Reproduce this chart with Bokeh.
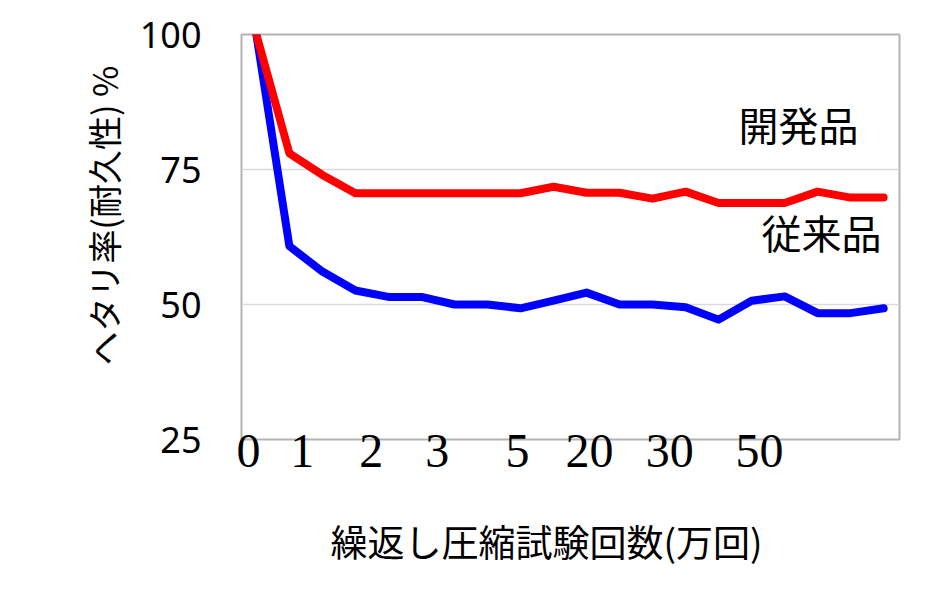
from bokeh.plotting import figure
from bokeh.models import FixedTicker, Range1d, Label, Title
from bokeh.embed import file_html
from bokeh.resources import INLINE

# ---- data ----
step_index = list(range(20))
dev_product = [100, 78.0, 74.0, 70.6, 70.6, 70.6, 70.6, 70.6, 70.6, 71.8,
               70.7, 70.7, 69.6, 70.9, 68.8, 68.8, 68.8, 70.9, 69.8, 69.8]
conv_product = [100, 60.8, 56.1, 52.6, 51.4, 51.4, 50.0, 50.0, 49.3, 50.7,
                52.2, 50.0, 50.0, 49.5, 47.2, 50.7, 51.5, 48.4, 48.4, 49.3]
x_tick_pos = [-0.24, 1.39, 3.48, 5.48, 7.91, 10.09, 12.52, 15.24]
x_tick_labels = ["0", "1", "2", "3", "5", "20", "30", "50"]
y_ticks = [25, 50, 75, 100]
series_names = ["開発品", "従来品"]
x_title = "繰返し圧縮試験回数(万回)"
y_title = "ヘタリ率(耐久性) %"

p = figure(width=924, height=612, output_backend="svg", toolbar_location=None,
           x_range=Range1d(-0.45, 19.48), y_range=Range1d(25, 100),
           min_border_left=241, min_border_right=25, min_border_top=34,
           min_border_bottom=173)

p.outline_line_color = "#b3b3b3"
p.outline_line_width = 2
p.background_fill_color = "white"
p.border_fill_color = "white"

p.xgrid.visible = False
p.ygrid.ticker = FixedTicker(ticks=y_ticks)
p.ygrid.grid_line_color = "#d9d9d9"
p.ygrid.grid_line_width = 1.5

p.yaxis.ticker = FixedTicker(ticks=y_ticks)
p.yaxis.axis_line_color = None
p.yaxis.major_tick_line_color = None
p.yaxis.minor_tick_line_color = None
p.yaxis.major_tick_out = 0
p.yaxis.major_label_standoff = 40
p.yaxis.major_label_text_font = "Noto Sans"
p.yaxis.major_label_text_font_size = "36px"
p.yaxis.major_label_text_color = "black"

p.xaxis.ticker = FixedTicker(ticks=x_tick_pos)
p.xaxis.major_label_overrides = {pos: lab for pos, lab in zip(x_tick_pos, x_tick_labels)}
p.xaxis.axis_line_color = None
p.xaxis.major_tick_line_color = None
p.xaxis.minor_tick_line_color = None
p.xaxis.major_tick_out = 0
p.xaxis.major_label_standoff = -5
p.xaxis.major_label_text_font = "Liberation Serif"
p.xaxis.major_label_text_font_size = "48px"
p.xaxis.major_label_text_color = "black"

p.line(step_index, conv_product, line_color="#0000ff", line_width=8,
       line_cap="round", line_join="round")
p.line(step_index, dev_product, line_color="#ff0000", line_width=8,
       line_cap="round", line_join="round")

cjk = "Noto Sans CJK JP"
p.add_layout(Label(x=16.42, y=83.5, text=series_names[0], text_align="center",
                   text_baseline="middle", text_font=cjk, text_font_size="40px",
                   text_color="black"))
p.add_layout(Label(x=17.12, y=63.5, text=series_names[1], text_align="center",
                   text_baseline="middle", text_font=cjk, text_font_size="40px",
                   text_color="black"))

p.add_layout(Title(text=x_title, align="left", offset=89, standoff=85,
                   text_font=cjk, text_font_size="37px", text_font_style="normal",
                   text_color="black"), "below")
p.add_layout(Title(text=y_title, align="left", offset=74, standoff=18,
                   text_font=cjk, text_font_size="34px", text_font_style="normal",
                   text_color="black"), "left")

open("out.html", "w").write(file_html(p, INLINE))
